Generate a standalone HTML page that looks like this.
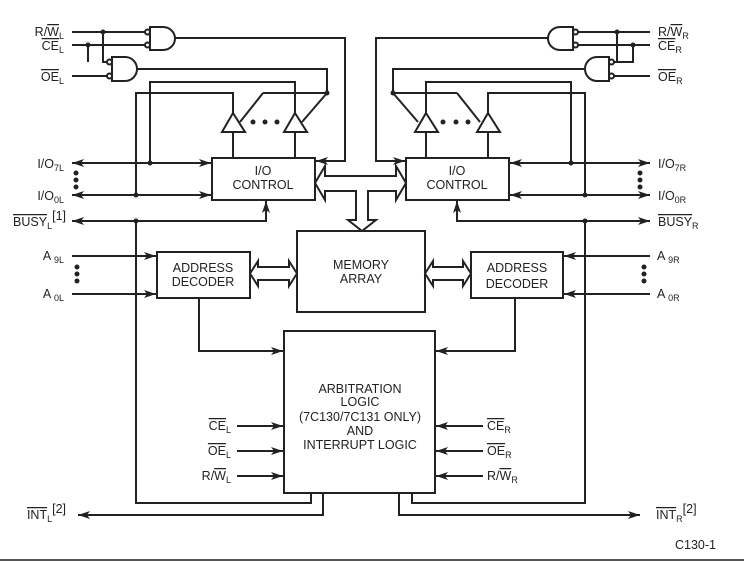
<!DOCTYPE html>
<html><head><meta charset="utf-8"><style>
html,body{margin:0;padding:0;background:#fff;}
svg{display:block;}
text{font-family:"Liberation Sans",sans-serif;font-size:12.5px;fill:#222;}
.o{text-decoration:overline;}
</style></head><body>
<svg width="744" height="562" viewBox="0 0 744 562" xmlns="http://www.w3.org/2000/svg">
<defs>
<marker id="a" viewBox="0 0 12 8" refX="12" refY="4" markerWidth="12" markerHeight="8" markerUnits="userSpaceOnUse" orient="auto-start-reverse">
<path d="M0,0 L12,4 L0,8 L3,4 Z" fill="#222"/></marker>
</defs>
<g stroke="#222" stroke-width="2" fill="none">
<rect x="212" y="158" width="103" height="42"/>
<rect x="406" y="158" width="103" height="42"/>
<rect x="297" y="231" width="128" height="81"/>
<rect x="157" y="252" width="93" height="46"/>
<rect x="471" y="252" width="92" height="46"/>
<rect x="284" y="331" width="151" height="162"/>
<path fill="#fff" d="M315,183 L325,166 L325,176 L396,176 L396,166 L406,183 L396,200 L396,191 L368,191 L368,220 L376,220 L362,231 L348,220 L356,220 L356,191 L325,191 L325,200 Z"/>
<path fill="#fff" d="M250,273.5 L258,261 L258,267 L289,267 L289,261 L297,273.5 L289,286 L289,280 L258,280 L258,286 Z"/>
<path fill="#fff" d="M425,273.5 L433,261 L433,267 L463,267 L463,261 L471,273.5 L463,286 L463,280 L433,280 L433,286 Z"/>
<line x1="72" y1="32" x2="145" y2="32"/>
<line x1="72" y1="45" x2="145" y2="45"/>
<line x1="72" y1="76" x2="107" y2="76"/>
<path d="M103,32 V62 H107"/>
<path d="M88,45 V62"/>
<path d="M150,27 H163 A12,11.5 0 0 1 163,50 H150 Z"/>
<circle cx="147.5" cy="32" r="2.5" fill="#fff"/><circle cx="147.5" cy="45" r="2.5" fill="#fff"/>
<path d="M112,57 H125 A12,12 0 0 1 125,81 H112 Z"/>
<circle cx="109.5" cy="62" r="2.5" fill="#fff"/><circle cx="109.5" cy="76" r="2.5" fill="#fff"/>
<path d="M175,38 H345 V161 H316" marker-end="url(#a)"/>
<path d="M137,69 H327 V93"/>
<path d="M150,163 V82 H295 V113"/>
<path d="M136,195 V93 H233 V113"/>
<path d="M263,93 H327"/>
<line x1="263" y1="93" x2="240" y2="122"/>
<line x1="327" y1="93" x2="302" y2="122"/>
<path d="M233,113 L222,132 H245 Z"/>
<path d="M295,113 L284,132 H307 Z"/>
<line x1="233" y1="132" x2="233" y2="158"/>
<line x1="295" y1="132" x2="295" y2="158"/>
<line x1="72" y1="163" x2="211" y2="163" marker-start="url(#a)" marker-end="url(#a)"/>
<line x1="72" y1="195" x2="211" y2="195" marker-start="url(#a)" marker-end="url(#a)"/>
<path d="M72,221 H266 V201" marker-start="url(#a)" marker-end="url(#a)"/>
<path d="M136,221 V503 H311 V493"/>
<path d="M323,493 V515 H78" marker-end="url(#a)"/>
<line x1="72" y1="256" x2="156" y2="256" marker-end="url(#a)"/>
<line x1="72" y1="294" x2="156" y2="294" marker-end="url(#a)"/>
<path d="M199,298 V351 H283" marker-end="url(#a)"/>
<line x1="237" y1="426" x2="283" y2="426" marker-end="url(#a)"/>
<line x1="237" y1="451" x2="283" y2="451" marker-end="url(#a)"/>
<line x1="237" y1="476" x2="283" y2="476" marker-end="url(#a)"/>
<line x1="650" y1="32" x2="578" y2="32"/>
<line x1="650" y1="45" x2="578" y2="45"/>
<line x1="650" y1="76" x2="614" y2="76"/>
<path d="M617,32 V62 H614"/>
<path d="M633,45 V62 H617"/>
<path d="M573,27 H560 A12,11.5 0 0 0 560,50 H573 Z"/>
<circle cx="575.5" cy="32" r="2.5" fill="#fff"/><circle cx="575.5" cy="45" r="2.5" fill="#fff"/>
<path d="M609,57 H597 A12,12 0 0 0 597,81 H609 Z"/>
<circle cx="611.5" cy="62" r="2.5" fill="#fff"/><circle cx="611.5" cy="76" r="2.5" fill="#fff"/>
<path d="M548,38 H376 V161 H405" marker-end="url(#a)"/>
<path d="M585,69 H393 V93"/>
<line x1="393" y1="93" x2="418" y2="122"/>
<path d="M393,93 H457"/>
<line x1="457" y1="93" x2="480" y2="122"/>
<path d="M571,163 V82 H426 V113"/>
<path d="M585,195 V93 H488 V113"/>
<path d="M426,113 L415,132 H438 Z"/>
<path d="M488,113 L477,132 H500 Z"/>
<line x1="426" y1="132" x2="426" y2="158"/>
<line x1="488" y1="132" x2="488" y2="158"/>
<line x1="510" y1="163" x2="650" y2="163" marker-start="url(#a)" marker-end="url(#a)"/>
<line x1="510" y1="195" x2="650" y2="195" marker-start="url(#a)" marker-end="url(#a)"/>
<path d="M650,221 H457 V201" marker-start="url(#a)" marker-end="url(#a)"/>
<path d="M585,221 V503 H412 V493"/>
<path d="M399,493 V515 H640" marker-end="url(#a)"/>
<line x1="650" y1="256" x2="564" y2="256" marker-end="url(#a)"/>
<line x1="650" y1="294" x2="564" y2="294" marker-end="url(#a)"/>
<path d="M515,298 V351 H436" marker-end="url(#a)"/>
<line x1="483" y1="426" x2="436" y2="426" marker-end="url(#a)"/>
<line x1="483" y1="451" x2="436" y2="451" marker-end="url(#a)"/>
<line x1="483" y1="476" x2="436" y2="476" marker-end="url(#a)"/>
<line x1="0" y1="560" x2="744" y2="560" stroke-width="1.5"/>
</g>
<g fill="#222">
<circle cx="103" cy="32" r="2.5"/><circle cx="88" cy="45" r="2.5"/><circle cx="327" cy="93" r="2.5"/>
<circle cx="150" cy="163" r="2.5"/><circle cx="136" cy="195" r="2.5"/><circle cx="136" cy="221" r="2.5"/>
<circle cx="617" cy="32" r="2.5"/><circle cx="633" cy="45" r="2.5"/><circle cx="393" cy="93" r="2.5"/>
<circle cx="571" cy="163" r="2.5"/><circle cx="585" cy="195" r="2.5"/><circle cx="585" cy="221" r="2.5"/>
<circle cx="253" cy="122" r="2.5"/><circle cx="265" cy="122" r="2.5"/><circle cx="277" cy="122" r="2.5"/>
<circle cx="443" cy="122" r="2.5"/><circle cx="456" cy="122" r="2.5"/><circle cx="468" cy="122" r="2.5"/>
<circle cx="76" cy="173" r="2.5"/><circle cx="76" cy="180" r="2.5"/><circle cx="76" cy="187" r="2.5"/>
<circle cx="640" cy="173" r="2.5"/><circle cx="640" cy="180" r="2.5"/><circle cx="640" cy="187" r="2.5"/>
<circle cx="77" cy="267" r="2.5"/><circle cx="77" cy="274" r="2.5"/><circle cx="77" cy="281" r="2.5"/>
<circle cx="644" cy="267" r="2.5"/><circle cx="644" cy="274" r="2.5"/><circle cx="644" cy="281" r="2.5"/>
</g>
<g text-anchor="end">
<text x="64" y="36">R/<tspan class="o">W</tspan><tspan font-size="9" dy="3">L</tspan></text>
<text x="64" y="50"><tspan class="o">CE</tspan><tspan font-size="9" dy="3">L</tspan></text>
<text x="64" y="81"><tspan class="o">OE</tspan><tspan font-size="9" dy="3">L</tspan></text>
<text x="64" y="168">I/O<tspan font-size="9" dy="3">7L</tspan></text>
<text x="64" y="200">I/O<tspan font-size="9" dy="3">0L</tspan></text>
<text x="66" y="226"><tspan class="o">BUSY</tspan><tspan font-size="9" dy="3">L</tspan><tspan dy="-9">[1]</tspan></text>
<text x="64" y="260">A <tspan font-size="9" dy="3">9L</tspan></text>
<text x="64" y="298">A <tspan font-size="9" dy="3">0L</tspan></text>
<text x="231" y="430"><tspan class="o">CE</tspan><tspan font-size="9" dy="3">L</tspan></text>
<text x="231" y="455"><tspan class="o">OE</tspan><tspan font-size="9" dy="3">L</tspan></text>
<text x="231" y="480">R/<tspan class="o">W</tspan><tspan font-size="9" dy="3">L</tspan></text>
<text x="66" y="519"><tspan class="o">INT</tspan><tspan font-size="9" dy="3">L</tspan><tspan dy="-9">[2]</tspan></text>
</g>
<g>
<text x="658" y="36">R/<tspan class="o">W</tspan><tspan font-size="9" dy="3">R</tspan></text>
<text x="658" y="50"><tspan class="o">CE</tspan><tspan font-size="9" dy="3">R</tspan></text>
<text x="658" y="81"><tspan class="o">OE</tspan><tspan font-size="9" dy="3">R</tspan></text>
<text x="658" y="168">I/O<tspan font-size="9" dy="3">7R</tspan></text>
<text x="658" y="200">I/O<tspan font-size="9" dy="3">0R</tspan></text>
<text x="658" y="226"><tspan class="o">BUSY</tspan><tspan font-size="9" dy="3">R</tspan></text>
<text x="657" y="260">A <tspan font-size="9" dy="3">9R</tspan></text>
<text x="657" y="298">A <tspan font-size="9" dy="3">0R</tspan></text>
<text x="487" y="430"><tspan class="o">CE</tspan><tspan font-size="9" dy="3">R</tspan></text>
<text x="487" y="455"><tspan class="o">OE</tspan><tspan font-size="9" dy="3">R</tspan></text>
<text x="487" y="480">R/<tspan class="o">W</tspan><tspan font-size="9" dy="3">R</tspan></text>
<text x="656" y="519"><tspan class="o">INT</tspan><tspan font-size="9" dy="3">R</tspan><tspan dy="-9">[2]</tspan></text>
<text x="675" y="549">C130-1</text>
</g>
<g text-anchor="middle">
<text x="263" y="175">I/O</text><text x="263" y="189">CONTROL</text>
<text x="457" y="175">I/O</text><text x="457" y="189">CONTROL</text>
<text x="361" y="269">MEMORY</text><text x="361" y="283">ARRAY</text>
<text x="203" y="272">ADDRESS</text><text x="203" y="286">DECODER</text>
<text x="517" y="272">ADDRESS</text><text x="517" y="288">DECODER</text>
<text x="360" y="393">ARBITRATION</text>
<text x="360" y="406">LOGIC</text>
<text x="360" y="421">(7C130/7C131 ONLY)</text>
<text x="360" y="435">AND</text>
<text x="360" y="449">INTERRUPT LOGIC</text>
</g>
</svg>
</body></html>
